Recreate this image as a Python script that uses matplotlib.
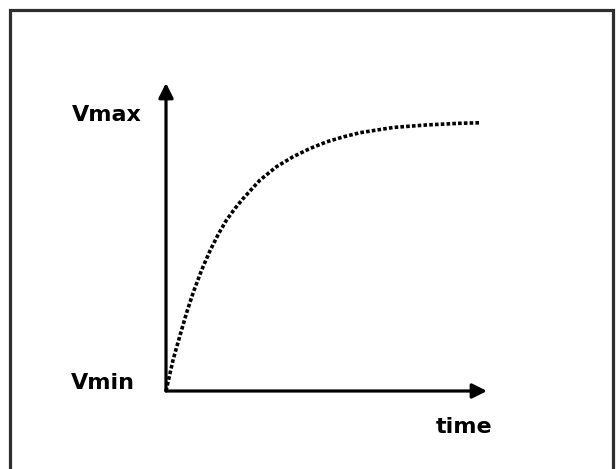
import matplotlib
matplotlib.use("Agg")
import matplotlib.pyplot as plt
from matplotlib.patches import Rectangle

# curve (time in arbitrary units, V normalised so Vmin=0, Vmax=1)
time = [0, 0.23, 0.45, 0.66, 0.87, 1.14, 1.40, 1.67, 1.93, 2.20, 2.46, 2.99,
        3.52, 4.05, 4.59, 5.12, 5.65, 6.18, 7.24, 8.30, 9.36, 10.0]
volt = [0, 0.115, 0.203, 0.285, 0.358, 0.440, 0.508, 0.569, 0.620, 0.662,
        0.698, 0.764, 0.813, 0.849, 0.879, 0.903, 0.921, 0.936, 0.955, 0.964,
        0.970, 0.972]

W, H = 616, 469
fig = plt.figure(figsize=(W / 100, H / 100), dpi=100)
fig.patch.set_facecolor("white")

# axes: origin at pixel (166, 391), arrow tips at x=487 and y=83
ax = fig.add_axes([166 / W, (H - 391) / H, (487 - 166) / W, (391 - 83) / H])
ax.set_xlim(0, 10.22)
ax.set_ylim(0, 1.116)
ax.axis("off")

# axis arrows
arrow = dict(arrowstyle="-|>", color="black", lw=2.3, mutation_scale=22,
             shrinkA=0, shrinkB=0)
ax.annotate("", xy=(1, 0), xytext=(0, 0), xycoords="axes fraction",
            arrowprops=arrow)
ax.annotate("", xy=(0, 1), xytext=(0, 0), xycoords="axes fraction",
            arrowprops=arrow)

# dotted curve
ax.plot(time, volt, color="black", lw=2.6, linestyle=(0, (1, 0.6)),
        dash_capstyle="butt", clip_on=False)

font = dict(fontsize=16, fontweight="bold", family="DejaVu Sans")
ax.text(-0.76, 1.0, "Vmax", ha="right", va="center", clip_on=False, **font)
ax.text(-0.98, 0.03, "Vmin", ha="right", va="center", clip_on=False, **font)
ax.text(10.38, -0.13, "time", ha="right", va="center", clip_on=False, **font)

# outer frame
fig.add_artist(Rectangle((10 / W, -0.1), (613 - 10) / W, (H - 10.5) / H + 0.1,
                         transform=fig.transFigure, fill=False,
                         lw=2.3, ec="#2e2e2e"))

fig.savefig("out.png", dpi=100)
